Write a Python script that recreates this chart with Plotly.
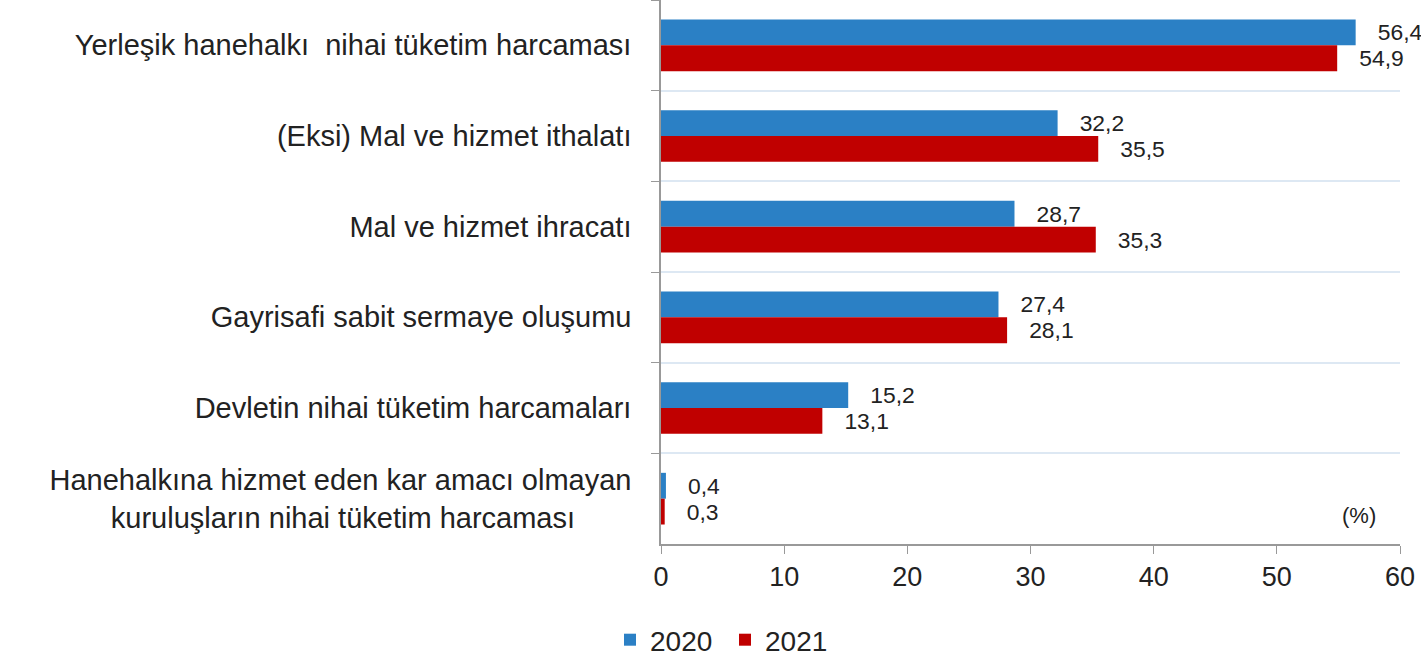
import plotly.graph_objects as go

categories = [
    "Yerleşik hanehalkı  nihai tüketim harcaması",
    "(Eksi) Mal ve hizmet ithalatı",
    "Mal ve hizmet ihracatı",
    "Gayrisafi sabit sermaye oluşumu",
    "Devletin nihai tüketim harcamaları",
    "Hanehalkına hizmet eden kar amacı olmayan<br>kuruluşların nihai tüketim harcaması" + "\u00a0" * 7,
]
values_2020 = [56.4, 32.2, 28.7, 27.4, 15.2, 0.4]
values_2021 = [54.9, 35.5, 35.3, 28.1, 13.1, 0.3]
x_ticks = [0, 10, 20, 30, 40, 50, 60]

FONT = "Liberation Sans, Arial, sans-serif"


def fmt(v):
    # turkish decimal comma, small lead gap like the original
    return "\u00a0\u00a0\u00a0" + f"{v:.1f}".replace(".", ",")


fig = go.Figure()
for name, vals, color in [("2020", values_2020, "#2B80C5"), ("2021", values_2021, "#C00000")]:
    fig.add_trace(go.Bar(
        y=categories, x=vals, orientation="h", name=name,
        marker=dict(color=color, line=dict(width=0)),
        text=[fmt(v) for v in vals], textposition="outside",
        textfont=dict(size=23, color="#222", family=FONT),
        cliponaxis=False,
    ))

fig.add_annotation(
    x=1.0, y=0.0, xref="paper", yref="paper", xanchor="right", yanchor="bottom",
    xshift=-22, yshift=14, text="(%)", showarrow=False,
    font=dict(size=22, color="#222", family=FONT),
)

fig.update_layout(
    width=1421, height=665,
    barmode="group", bargap=0.43, bargroupgap=0,
    margin=dict(l=661, r=21, t=0, b=117),
    paper_bgcolor="white", plot_bgcolor="white",
    font=dict(family=FONT, color="#222"),
    xaxis=dict(
        range=[0, 60], tickvals=x_ticks, showgrid=False, zeroline=False,
        showline=True, linecolor="#999", linewidth=1.5,
        ticks="outside", ticklen=8, tickcolor="#999",
        tickfont=dict(size=27, color="#222"),
    ),
    yaxis=dict(
        autorange="reversed", tickson="boundaries", showgrid=True,
        gridcolor="#dde8f3", gridwidth=1.5,
        showline=True, linecolor="#999", linewidth=1.5,
        ticks="outside", ticklen=8, tickcolor="#999",
        tickfont=dict(size=29, color="#222"), ticklabelstandoff=22,
    ),
    legend=dict(
        orientation="h", x=-0.069, y=-0.177, xanchor="left", yanchor="middle",
        font=dict(size=28, color="#222"), itemwidth=30,
        entrywidth=70, entrywidthmode="pixels",
    ),
)

fig.write_html(
    "out.html",
    config={"displayModeBar": False},
    post_script="document.body.style.margin='0';",
)
